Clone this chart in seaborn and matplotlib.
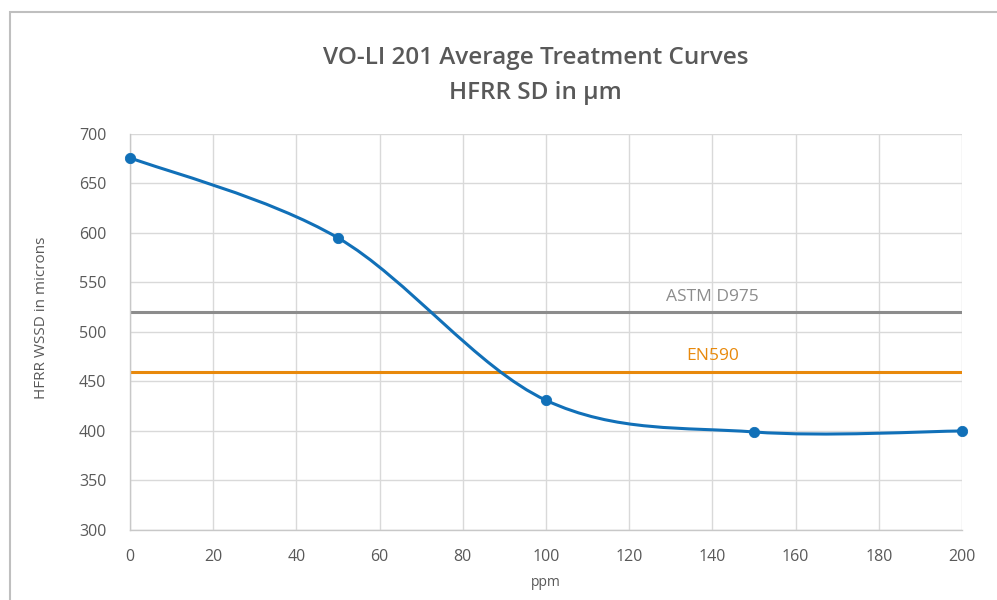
import matplotlib.pyplot as plt
import seaborn as sns
import pandas as pd
from matplotlib.path import Path
from matplotlib.patches import PathPatch, Rectangle

# Data
ppm = [0, 50, 100, 150, 200]
wssd = [676, 595, 431, 399, 400]
astm_limit = 520
en590_limit = 460
x_ticks = [0, 20, 40, 60, 80, 100, 120, 140, 160, 180, 200]
y_ticks = [300, 350, 400, 450, 500, 550, 600, 650, 700]

df = pd.DataFrame({'ppm': ppm, 'wssd': wssd})
df_limits = pd.DataFrame({
    'ppm': [0, 200, 0, 200],
    'value': [astm_limit, astm_limit, en590_limit, en590_limit],
    'limit': ['ASTM D975', 'ASTM D975', 'EN590', 'EN590'],
})

sns.set_style('white')
plt.rcParams['font.family'] = ['Open Sans', 'DejaVu Sans']

text_col = '#595959'
blue = '#1170B8'
gray = '#8C8C8C'
orange = '#E8890C'

fig = plt.figure(figsize=(9.97, 6.0), dpi=100)
ax = fig.add_axes([0.1304, 0.1167, 0.8346, 0.66])

# chart border (cropped outer frame)
fig.patches.append(Rectangle((10 / 997, -0.1), 1.2, (600 - 12) / 600 + 0.1,
                             transform=fig.transFigure, fill=False,
                             edgecolor='#BFBFBF', linewidth=1.5))

# reference limits
sns.lineplot(data=df_limits, x='ppm', y='value', hue='limit',
             palette={'ASTM D975': gray, 'EN590': orange},
             linewidth=2.2, legend=False, ax=ax)

# smoothed treatment curve (Catmull-Rom style bezier, like Excel smoothing)
pts = list(zip(ppm, wssd))
verts = [pts[0]]
codes = [Path.MOVETO]
for i in range(len(pts) - 1):
    p0 = pts[i - 1] if i > 0 else pts[i]
    p1 = pts[i]
    p2 = pts[i + 1]
    p3 = pts[i + 2] if i + 2 < len(pts) else pts[i + 1]
    c1 = (p1[0] + (p2[0] - p0[0]) / 6, p1[1] + (p2[1] - p0[1]) / 6)
    c2 = (p2[0] - (p3[0] - p1[0]) / 6, p2[1] - (p3[1] - p1[1]) / 6)
    verts += [c1, c2, p2]
    codes += [Path.CURVE4, Path.CURVE4, Path.CURVE4]
ax.add_patch(PathPatch(Path(verts, codes), facecolor='none', edgecolor=blue,
                       linewidth=2.2, zorder=4))
sns.scatterplot(data=df, x='ppm', y='wssd', color=blue, s=55,
                edgecolor=blue, zorder=5, clip_on=False, ax=ax)

ax.text(140, 535, 'ASTM D975', color=gray, fontsize=12.5, ha='center', va='center')
ax.text(140, 476, 'EN590', color=orange, fontsize=12.5, ha='center', va='center')

ax.set_xlim(0, 200)
ax.set_ylim(300, 700)
ax.set_xticks(x_ticks)
ax.set_yticks(y_ticks)
ax.grid(True, color='#D9D9D9', linewidth=1)
ax.set_axisbelow(True)
for s in ['top', 'right']:
    ax.spines[s].set_visible(False)
for s in ['left', 'bottom']:
    ax.spines[s].set_color('#C8C8C8')
    ax.spines[s].set_linewidth(1)
ax.tick_params(axis='both', length=0, labelsize=11.5, colors=text_col)
ax.tick_params(axis='y', pad=17)
ax.tick_params(axis='x', pad=14)

ax.set_xlabel('ppm', fontsize=10, color=text_col, labelpad=7)
ax.set_ylabel('HFRR WSSD in microns', fontsize=11, color=text_col)
ax.yaxis.set_label_coords(-0.097, 0.535)

fig.text(0.537, 0.903, 'VO-LI 201 Average Treatment Curves', ha='center',
         va='center', fontsize=17.5, color=text_col, fontweight='semibold')
fig.text(0.537, 0.845, 'HFRR SD in µm', ha='center', va='center',
         fontsize=17.5, color=text_col, fontweight='semibold')

fig.savefig('out.png', dpi=100)
